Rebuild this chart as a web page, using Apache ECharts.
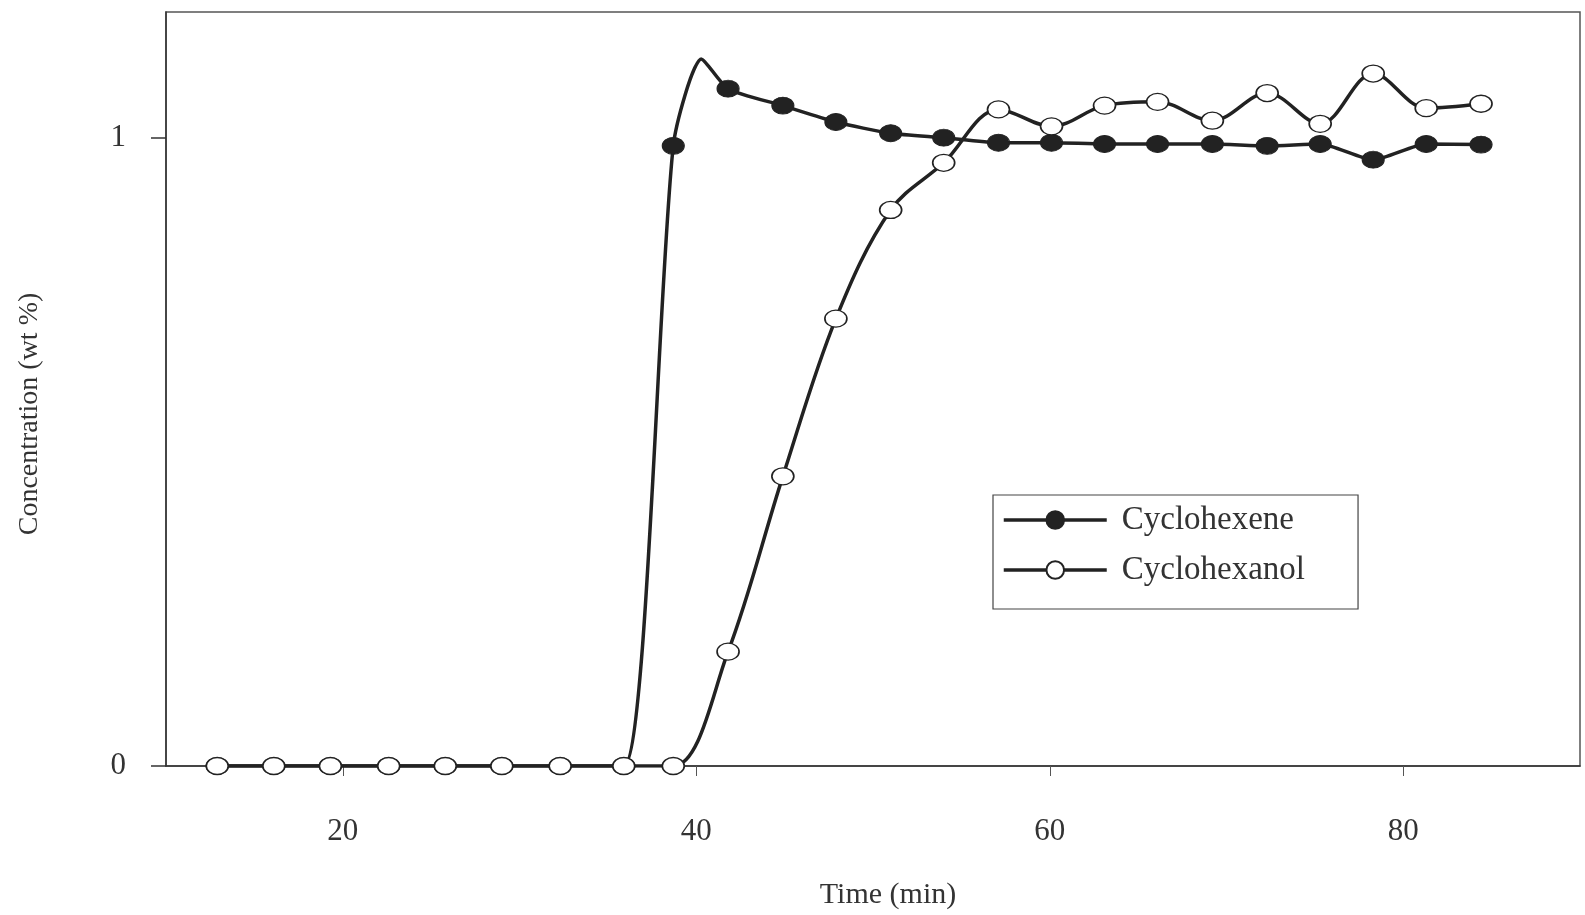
<!DOCTYPE html>
<html>
<head>
<meta charset="utf-8">
<script src="https://cdn.jsdelivr.net/npm/echarts@6/dist/echarts.min.js"></script>
<style>
html,body{margin:0;padding:0;background:#fff;}
#chart{width:1585px;height:915px;}
</style>
</head>
<body>
<div id="chart"></div>
<script>
// ---- data ----
var time = [12.9, 16.1, 19.3, 22.6, 25.8, 29.0, 32.3, 35.9, 38.7, 41.8, 44.9, 47.9, 51.0, 54.0, 57.1, 60.1, 63.1, 66.1, 69.2, 72.3, 75.3, 78.3, 81.3, 84.4];
var cyclohexene = [0, 0, 0, 0, 0, 0, 0, 0, 0.987, 1.078, 1.051, 1.025, 1.007, 1.0, 0.992, 0.992, 0.990, 0.990, 0.990, 0.987, 0.990, 0.965, 0.990, 0.989];
var cyclohexanol = [0, 0, 0, 0, 0, 0, 0, 0, 0, 0.182, 0.461, 0.712, 0.885, 0.960, 1.045, 1.018, 1.051, 1.057, 1.027, 1.071, 1.022, 1.102, 1.047, 1.054];
// overshoot of the drawn cyclohexene curve (curve vertex, no marker)
var cyclohexenePeak = [40.3, 1.125];
var xTicks = [20, 40, 60, 80];
var yTicks = [0, 1];
var seriesNames = ['Cyclohexene', 'Cyclohexanol'];

var FONT = "'Liberation Serif','DejaVu Serif',serif";
var INK = '#222';

function pairs(xs, ys) { return xs.map(function (x, i) { return [x, ys[i]]; }); }

var cyData = pairs(time, cyclohexene);
var insertAt = cyData.findIndex(function (p) { return p[0] > cyclohexenePeak[0]; });
cyData.splice(insertAt, 0, { value: cyclohexenePeak, symbol: 'none' });

var chart = echarts.init(document.getElementById('chart'), null, { renderer: 'canvas' });
chart.setOption({
  animation: false,
  backgroundColor: '#fff',
  grid: {
    left: 166, top: 12, width: 1414, height: 754,
    outerBoundsMode: 'none', containLabel: false,
    show: true, borderColor: '#555', borderWidth: 1.5, backgroundColor: 'transparent'
  },
  xAxis: {
    type: 'value', min: 10, max: 90,
    name: 'Time (min)', nameLocation: 'middle', nameGap: 114,
    nameTextStyle: { fontFamily: FONT, fontSize: 30, color: '#333', padding: [0, 0, 0, 30] },
    axisLine: { show: true, lineStyle: { color: '#333', width: 1.5 } },
    axisTick: { show: true, inside: false, length: 10, customValues: xTicks, lineStyle: { color: '#555', width: 1 } },
    axisLabel: { customValues: xTicks, margin: 50, fontFamily: FONT, fontSize: 31, color: '#333' },
    splitLine: { show: false }
  },
  yAxis: {
    type: 'value', min: 0, max: 1.2,
    name: 'Concentration (wt %)', nameLocation: 'middle', nameGap: 122, nameRotate: 90,
    nameTextStyle: { fontFamily: FONT, fontSize: 28, color: '#333', padding: [0, 50, 0, 0] },
    axisLine: { show: true, lineStyle: { color: '#333', width: 1.5 } },
    axisTick: { show: true, inside: false, length: 15, customValues: yTicks, lineStyle: { color: '#333', width: 1.5 } },
    axisLabel: { customValues: yTicks, margin: 40, fontFamily: FONT, fontSize: 31, color: '#333' },
    splitLine: { show: false }
  },
  legend: {
    orient: 'vertical',
    left: 993, top: 495,
    padding: [8, 53, 22, 9],
    itemWidth: 103, itemHeight: 22, itemGap: 16,
    borderColor: '#444', borderWidth: 1.2,
    backgroundColor: '#fff',
    lineStyle: { width: 3.5, color: INK },
    textStyle: { fontFamily: FONT, fontSize: 33, color: '#333', lineHeight: 34, padding: [0, 0, 0, 10] },
    data: seriesNames
  },
  series: [
    {
      name: seriesNames[0], type: 'line', data: cyData,
      smooth: 0.22, z: 2,
      symbol: 'circle', symbolSize: [22, 17],
      lineStyle: { color: INK, width: 3.5 },
      itemStyle: { color: INK, borderColor: INK, borderWidth: 1 },
      emphasis: { disabled: true }
    },
    {
      name: seriesNames[1], type: 'line', data: pairs(time, cyclohexanol),
      smooth: 0.35, z: 3,
      symbol: 'circle', symbolSize: [22, 17],
      lineStyle: { color: INK, width: 3.5 },
      itemStyle: { color: '#fff', borderColor: INK, borderWidth: 1.5 },
      emphasis: { disabled: true }
    }
  ]
});
</script>
</body>
</html>
